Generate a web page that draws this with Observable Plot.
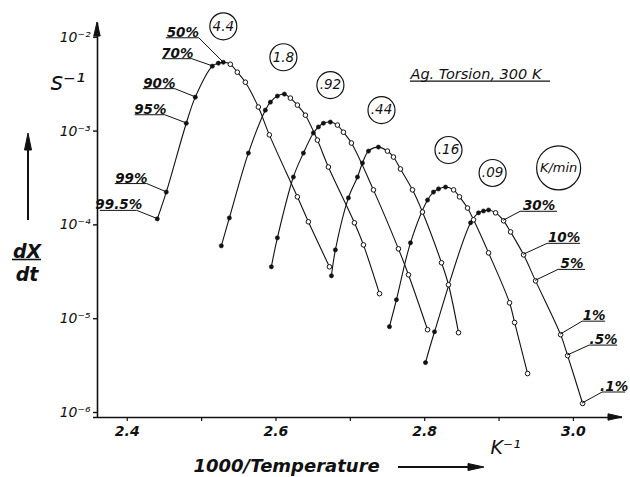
<!DOCTYPE html>
<html><head><meta charset="utf-8">
<script src="https://cdn.jsdelivr.net/npm/d3@7"></script>
<script src="https://cdn.jsdelivr.net/npm/@observablehq/plot@0.6"></script>
<style>html,body{margin:0;padding:0;background:#fff} svg{display:block}</style>
</head><body><div id="chart"></div>
<script>
// ---- data ----
const rates = ["4.4", "1.8", ".92", ".44", ".16", ".09"];
const x44 = [2.4404, 2.4525, 2.4794, 2.4915, 2.5144, 2.5225, 2.5292, 2.5386, 2.5480, 2.5588, 2.5763, 2.5911, 2.6288, 2.6436, 2.6719];
const y44 = [1.31e-4, 2.53e-4, 1.37e-3, 2.60e-3, 5.56e-3, 5.98e-3, 6.12e-3, 5.83e-3, 4.80e-3, 3.75e-3, 2.04e-3, 1.03e-3, 2.25e-4, 1.22e-4, 4.04e-5];
const x18 = [2.5265, 2.5373, 2.5629, 2.5857, 2.5925, 2.6019, 2.6113, 2.6194, 2.6288, 2.6396, 2.6557, 2.6705, 2.7055, 2.7176, 2.7392];
const y18 = [6.76e-5, 1.34e-4, 6.59e-4, 1.89e-3, 2.30e-3, 2.67e-3, 2.80e-3, 2.54e-3, 2.14e-3, 1.67e-3, 9.06e-4, 4.68e-4, 1.19e-4, 6.92e-5, 2.09e-5];
const x92 = [2.5938, 2.6019, 2.6234, 2.6369, 2.6503, 2.6571, 2.6638, 2.6732, 2.6826, 2.6907, 2.7015, 2.7311, 2.7647, 2.7782, 2.8038];
const y92 = [4.04e-5, 8.22e-5, 3.66e-4, 6.59e-4, 1.08e-3, 1.25e-3, 1.37e-3, 1.41e-3, 1.31e-3, 1.10e-3, 8.43e-4, 2.67e-4, 6.28e-5, 3.32e-5, 8.63e-6];
const x044 = [2.6746, 2.6799, 2.6974, 2.7096, 2.7163, 2.7244, 2.7378, 2.7499, 2.7580, 2.7674, 2.7836, 2.7970, 2.8226, 2.8320, 2.8455];
const y044 = [3.24e-5, 6.12e-5, 2.19e-4, 3.66e-4, 5.16e-4, 6.92e-4, 7.63e-4, 6.92e-4, 5.98e-4, 4.46e-4, 2.67e-4, 1.55e-4, 4.46e-5, 2.60e-5, 8.02e-6];
const x16 = [2.7526, 2.7620, 2.7809, 2.8038, 2.8118, 2.8186, 2.8280, 2.8388, 2.8468, 2.8576, 2.8657, 2.8859, 2.9141, 2.9209, 2.9384];
const y16 = [9.29e-6, 1.80e-5, 7.28e-5, 2.08e-4, 2.53e-4, 2.73e-4, 2.86e-4, 2.67e-4, 2.25e-4, 1.71e-4, 1.28e-4, 5.69e-5, 1.67e-5, 1.03e-5, 2.94e-6];
const x09 = [2.8011, 2.8132, 2.8617, 2.8724, 2.8791, 2.8859, 2.8953, 2.9061, 2.9155, 2.9330, 2.9491, 2.9828, 2.9922, 3.0124];
const y09 = [3.85e-6, 8.2e-6, 1.19e-4, 1.52e-4, 1.59e-4, 1.63e-4, 1.52e-4, 1.25e-4, 9.52e-5, 5.42e-5, 2.86e-5, 7.64e-6, 4.57e-6, 1.41e-6];

const pctLabels = ["99.5%", "99%", "95%", "90%", "70%", "50%", "30%", "10%", "5%", "1%", ".5%", ".1%"];
const pctX = [2.4404, 2.4525, 2.4794, 2.4915, 2.5144, 2.5292, 2.9061, 2.9330, 2.9491, 2.9828, 2.9922, 3.0124];
const pctY = [1.31e-4, 2.53e-4, 1.37e-3, 2.60e-3, 5.56e-3, 6.12e-3, 1.25e-4, 5.42e-5, 2.86e-5, 7.64e-6, 4.57e-6, 1.41e-6];

const circleLabels = ["4.4", "1.8", ".92", ".44", ".16", ".09"];
const circleX = [2.5292, 2.6100, 2.6732, 2.7419, 2.8320, 2.8913];
const circleY = [1.479e-2, 6.92e-3, 3.49e-3, 1.89e-3, 7.10e-4, 4.04e-4];
const unitLabel = "K/min";
const unitX = 2.9801, unitY = 4.57e-4;

const titleText = "Ag. Torsion, 300 K";
const titleX = 2.7809, titleY = 4.04e-3;

const xTicks = [2.4, 2.5, 2.6, 2.7, 2.8, 2.9, 3.0];
const xTickLabels = ["2.4", "", "2.6", "", "2.8", "", "3.0"];
const yTicks = [1e-6, 1e-5, 1e-4, 1e-3, 1e-2];
const yTickLabels = ["10⁻⁶", "10⁻⁵", "10⁻⁴", "10⁻³", "10⁻²"];

// ---- layout (pixel offsets of the leader-line labels) ----
const pctLayout = [
  {side: "left", dx: -20, dy: -8, w: 37},
  {side: "left", dx: -19, dy: -8, w: 32},
  {side: "left", dx: -21, dy: -8, w: 30},
  {side: "left", dx: -20, dy: -8, w: 32},
  {side: "left", dx: -20, dy: -7, w: 30},
  {side: "left", dx: -24, dy: -24, w: 33},
  {side: "right", dx: 17, dy: -9, w: 37},
  {side: "right", dx: 24, dy: -11, w: 33},
  {side: "right", dx: 23, dy: -11, w: 27},
  {side: "right", dx: 22, dy: -13, w: 23},
  {side: "right", dx: 22, dy: -10, w: 28},
  {side: "right", dx: 20, dy: -11, w: 23}
];

// ---- build table ----
const series = [[x44, y44], [x18, y18], [x92, y92], [x044, y044], [x16, y16], [x09, y09]];
const rows = [];
series.forEach(([xs, ys], k) => {
  const peak = d3.maxIndex(ys);
  xs.forEach((x, i) => rows.push({rate: rates[k], x, y: ys[i], filled: i <= peak}));
});
const circles = circleLabels.map((t, i) => ({t, x: circleX[i], y: circleY[i]}));

const ink = "#111";
const hasAxisMarks = typeof Plot.axisX === "function";
const xFmt = d => xTickLabels[xTicks.findIndex(v => Math.abs(v - d) < 1e-9)] ?? "";
const yFmt = d => yTickLabels[yTicks.findIndex(v => Math.abs(Math.log10(v) - Math.log10(d)) < 1e-6)] ?? "";

function decorations(index, scales, values, dims) {
  const {width, height, marginLeft: ml, marginTop: mt, marginBottom: mb, marginRight: mr} = dims;
  const g = d3.create("svg:g").attr("fill", "none").attr("stroke", ink);
  const x0 = ml, y0 = height - mb, x1 = width - mr;
  // axis arrowheads
  g.append("path").attr("d", `M${x0},${mt - 1} L${x0 - 3.2},${mt + 13} L${x0 + 3.2},${mt + 13} Z`).attr("fill", ink);
  g.append("path").attr("d", `M${x1},${y0} L${x1 - 14},${y0 - 3.2} L${x1 - 14},${y0 + 3.2} Z`).attr("fill", ink);
  // leader lines + underlines
  pctLabels.forEach((t, i) => {
    const o = pctLayout[i];
    const px = scales.x(pctX[i]), py = scales.y(pctY[i]);
    const ax = px + o.dx, ay = py + o.dy;
    const ux = o.side === "left" ? ax - o.w : ax + o.w;
    g.append("path").attr("d", `M${px},${py} L${ax},${ay} L${ux},${ay}`).attr("stroke-width", 1);
  });
  // title underline
  const tx = scales.x(titleX), ty = scales.y(titleY);
  g.append("path").attr("d", `M${tx},${ty + 2.5} L${tx + 140},${ty + 2.5}`).attr("stroke-width", 1.2);
  // up arrow at left
  g.append("path").attr("d", `M28,220 L28,148`).attr("stroke-width", 2);
  g.append("path").attr("d", `M28,133 L24.5,150 L31.5,150 Z`).attr("fill", ink);
  // fraction bar dX/dt
  g.append("path").attr("d", `M12,259.5 L41,259.5`).attr("stroke-width", 1.6);
  // arrow after x label
  g.append("path").attr("d", `M398,467 L470,467`).attr("stroke-width", 2);
  g.append("path").attr("d", `M484,467 L468,463.5 L468,470.5 Z`).attr("fill", ink);
  return g.node();
}

const marks = [
  Plot.ruleX([2.36], {stroke: ink, strokeWidth: 1.6}),
  Plot.ruleY([1e-6], {stroke: ink, strokeWidth: 1.6, insetLeft: -4}),
  Plot.line(rows, {x: "x", y: "y", z: "rate", curve: "catmull-rom", stroke: ink, strokeWidth: 1.1}),
  Plot.dot(rows.filter(d => !d.filled), {x: "x", y: "y", r: 2.3, fill: "white", stroke: ink, strokeWidth: 1}),
  Plot.dot(rows.filter(d => d.filled), {x: "x", y: "y", r: 2.1, fill: ink, stroke: ink, strokeWidth: 0.6}),
  // circled rate labels
  Plot.dot(circles, {x: "x", y: "y", r: 13.5, fill: "white", stroke: ink, strokeWidth: 1.2}),
  Plot.text(circles, {x: "x", y: "y", text: "t", fontSize: 13.5, fontStyle: "italic", fill: ink}),
  Plot.dot([unitLabel], {x: () => unitX, y: () => unitY, r: 22, fill: "white", stroke: ink, strokeWidth: 1.2}),
  Plot.text([unitLabel], {x: () => unitX, y: () => unitY, text: d => d, fontSize: 13, fontStyle: "italic", fill: ink}),
  // title
  Plot.text([titleText], {x: () => titleX, y: () => titleY, text: d => d, textAnchor: "start", lineAnchor: "bottom", fontSize: 14.5, fontStyle: "italic", fill: ink}),
  // percent labels
  ...pctLabels.map((t, i) => {
    const o = pctLayout[i];
    return Plot.text([t], {
      x: () => pctX[i], y: () => pctY[i], text: d => d,
      dx: o.side === "left" ? o.dx - o.w / 2 : o.dx + o.w / 2, dy: o.dy - 1.5,
      textAnchor: "middle", lineAnchor: "bottom",
      fontSize: 13.5, fontWeight: "bold", fontStyle: "italic", fill: ink
    });
  }),
  // axis titles
  Plot.text(["s⁻¹"], {frameAnchor: "top-left", dx: -47, dy: 66, text: d => d, textAnchor: "start", lineAnchor: "bottom", fontSize: 24, fontStyle: "italic", fill: ink}),
  Plot.text(["dX"], {frameAnchor: "top-left", dx: -70.5, dy: 234, text: d => d, textAnchor: "middle", lineAnchor: "bottom", fontSize: 19, fontWeight: "bold", fontStyle: "italic", fill: ink}),
  Plot.text(["dt"], {frameAnchor: "top-left", dx: -70.5, dy: 257, text: d => d, textAnchor: "middle", lineAnchor: "bottom", fontSize: 19, fontWeight: "bold", fontStyle: "italic", fill: ink}),
  Plot.text(["K⁻¹"], {frameAnchor: "bottom-left", dx: 393, dy: 36, text: d => d, textAnchor: "start", lineAnchor: "bottom", fontSize: 19, fontStyle: "italic", fill: ink}),
  Plot.text(["1000/Temperature"], {frameAnchor: "bottom-left", dx: 96, dy: 54, text: d => d, textAnchor: "start", lineAnchor: "bottom", fontSize: 18, fontWeight: "bold", fontStyle: "italic", fill: ink}),
  decorations
];

if (hasAxisMarks) {
  marks.unshift(
    Plot.axisY({ticks: yTicks, tickFormat: yFmt, tickSize: 4, tickPadding: 3, dy: -5, label: null, fontSize: 14, fontStyle: "italic", stroke: ink, strokeWidth: 1.4, fill: ink}),
    Plot.axisX({ticks: xTicks, tickFormat: xFmt, tickSize: 4, tickPadding: 5, label: null, fontSize: 14, fontWeight: "bold", fontStyle: "italic", stroke: ink, strokeWidth: 1.2, fill: ink})
  );
}

const chart = Plot.plot({
  width: 630,
  height: 477,
  marginLeft: 97,
  marginRight: 8,
  marginTop: 23,
  marginBottom: 60,
  style: {fontFamily: "'DejaVu Sans', sans-serif", background: "white", color: ink},
  x: Object.assign({type: "linear", domain: [2.36, 3.066], label: null},
    hasAxisMarks ? {} : {ticks: xTicks, tickFormat: xFmt, tickSize: 4, tickPadding: 5}),
  y: Object.assign({type: "log", domain: [1e-6, 10 ** -1.8], label: null},
    hasAxisMarks ? {} : {ticks: yTicks, tickFormat: yFmt, tickSize: 4, tickPadding: 3}),
  marks
});
document.getElementById("chart").appendChild(chart);
</script>
</body></html>
